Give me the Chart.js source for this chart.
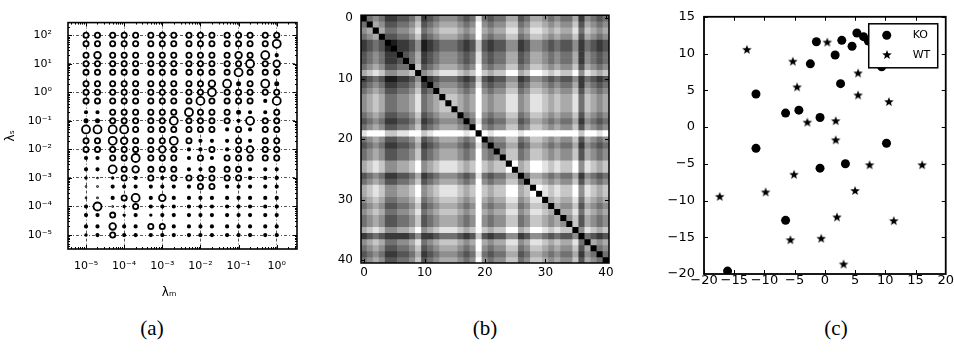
<!DOCTYPE html>
<html>
<head>
<meta charset="utf-8">
<script src="https://cdn.jsdelivr.net/npm/chart.js@4.4.1/dist/chart.umd.min.js"></script>
<style>
  html, body { margin: 0; padding: 0; background: #fff; }
  #page { position: relative; width: 954px; height: 353px; overflow: hidden; background: #fff; }
  #page canvas { position: absolute; top: 0; }
  .cap { position: absolute; top: 316px; width: 60px; margin-left: -30px; text-align: center;
         font: 21px "Liberation Serif", "DejaVu Serif", serif; line-height: 24px; color: #000; }
</style>
</head>
<body>
<div id="page">
  <canvas id="chartA" width="318" height="300" style="left:0px"></canvas>
  <canvas id="chartB" width="318" height="300" style="left:320px"></canvas>
  <canvas id="chartC" width="316" height="300" style="left:638px"></canvas>
  <div class="cap" style="left:152px">(a)</div>
  <div class="cap" style="left:485px">(b)</div>
  <div class="cap" style="left:836px">(c)</div>
</div>
<script>
// ---- (a) parameter grid ----
const lambdaM = [1e-5, 2e-5, 5e-5, 1e-4, 2e-4, 5e-4, 1e-3, 2e-3, 5e-3, 1e-2, 2e-2, 5e-2, 0.1, 0.2, 0.5, 1];
const lambdaS = [100, 50, 20, 10, 5, 2, 1, 0.5, 0.2, 0.1, 0.05, 0.02, 0.01,
                 5e-3, 2e-3, 1e-3, 5e-4, 2e-4, 1e-4, 5e-5, 2e-5, 1e-5];
// marker magnitude read per row of lambdaS (top to bottom), per column of lambdaM
const markerScore = [
  [3, 3, 3, 3, 3, 3, 3, 3, 3, 3, 3, 3, 3, 3, 3, 3],
  [3, 3, 3, 3, 3, 3, 3, 3, 3, 3, 3, 3, 3, 3, 3, 4],
  [3, 3.5, 3, 3, 3, 3, 3, 3, 3, 3, 3, 3, 3.5, 3, 4, 2],
  [3, 3, 3, 3, 3, 3, 3, 3, 3, 3, 3, 3, 3, 4, 3, 3.5],
  [3, 3, 3, 3, 3, 3, 3, 3, 3, 3, 3, 3, 4, 3, 3, 3],
  [3, 3, 3, 3, 3, 3, 3, 3, 3, 3, 3.5, 4, 2.5, 3, 4, 2.5],
  [3, 3, 3, 3, 3, 3, 3, 3, 3, 3, 4, 3, 3, 3, 3, 3],
  [3, 3, 3, 3, 3, 3, 3, 3, 3, 4, 3, 3, 3, 3, 2, 4],
  [2, 2, 3, 3, 3, 3, 3, 3, 4, 3, 3, 3, 2.5, 2, 2, 3],
  [2.5, 2.5, 3, 3, 3, 3, 3, 4, 3, 3, 3, 3, 2, 4, 3, 3],
  [4, 4, 4, 4, 3, 3, 3, 3, 3, 3, 3, 2, 3, 2, 3, 3],
  [3, 3, 4, 3.5, 3, 3, 3, 4, 3, 2, 2, 2, 3, 2, 3, 3],
  [3, 3, 3, 3, 3, 3, 3.5, 3, 2, 2, 3, 2, 3, 3.5, 3, 3],
  [2, 2, 3, 3, 4, 3, 3, 3, 2, 3, 2, 3, 3, 3, 3, 3],
  [2, 2, 4, 3, 3.5, 3, 3, 3, 2, 2, 3, 3, 3, 2, 2, 2],
  [1.5, 1, 1.5, 3, 2, 3, 2, 3, 3, 3, 3, 3, 3, 2, 2, 2],
  [1, 1, 2, 2, 2, 2, 2, 2, 2, 3, 3, 2, 2, 2, 2, 2],
  [1, 1, 2, 3, 4, 2, 3.5, 2, 2, 2, 2, 2, 2, 2, 2, 2],
  [2, 4, 1, 1.5, 3, 2, 2, 2, 2, 2, 2, 2, 2, 2, 2, 2],
  [2, 2, 3, 1.5, 2, 1.5, 2, 2, 2, 2, 2, 2, 2, 2, 2, 2],
  [2, 2, 3.5, 2, 2, 3, 3, 2, 2, 2, 2, 2, 2, 2, 2, 2],
  [1.5, 2, 3, 2, 2, 2, 2, 2, 2, 2, 2, 2, 2, 2, 2, 2]
];
const decadesX = [1e-5, 1e-4, 1e-3, 1e-2, 1e-1, 1];
const decadeLabelsX = ['10⁻⁵', '10⁻⁴', '10⁻³', '10⁻²', '10⁻¹', '10⁰'];
const decadesY = [1e-5, 1e-4, 1e-3, 1e-2, 1e-1, 1, 10, 100];
const decadeLabelsY = ['10⁻⁵', '10⁻⁴', '10⁻³', '10⁻²', '10⁻¹', '10⁰', '10¹', '10²'];

// ---- (b) distance matrix, grey level 0 (black) .. 9 (white), one string per row ----
const distRows = [
  "04542233462345554348434466346654544625434",
  "40653344573456665459545577457765655736545",
  "56064455684567776569656688568876766847656",
  "45603344573456665459545577457765655736545",
  "23430122351234443237323355235543433524323",
  "23431022351234443237323355235543433524323",
  "34542203462345554348434466346654544625434",
  "34542230462345554348434466346654544625434",
  "45653344073456665459545577457765655736545",
  "67875566705678887679767799679987877958767",
  "23431122350234443237323355235543433524323",
  "34542233462045554348434466346654544625434",
  "45653344573406665459545577457765655736545",
  "56764455684560776569656688568876766847656",
  "56764455684567076569656688568876766847656",
  "56764455684567706569656688568876766847656",
  "45653344573456660459545577457765655736545",
  "34542233462345554048434466346654544625434",
  "45653344573456665409545577457765655736545",
  "89997788997899999890989999899999999979989",
  "45653344573456665459045577457765655736545",
  "34542233462345554348404466346654544625434",
  "45653344573456665459540577457765655736545",
  "45653344573456665459545077457765655736545",
  "67875566795678887679767709679987877958767",
  "67875566795678887679767790679987877958767",
  "34542233462345554348434466046654544625434",
  "45653344573456665459545577407765655736545",
  "67875566795678887679767799670987877958767",
  "67875566795678887679767799679087877958767",
  "56764455684567776569656688568806766847656",
  "45653344573456665459545577457760655736545",
  "56764455684567776569656688568876066847656",
  "45653344573456665459545577457765605736545",
  "45653344573456665459545577457765650736545",
  "67875566795678887679767799679987877058767",
  "23432222352234443237323355235543433504323",
  "56764455684567776569656688568876766840656",
  "45653344573456665459545577457765655736045",
  "34542233462345554348434466346654544625404",
  "45653344573456665459545577457765655736540"
];
const heatTicks = [0, 10, 20, 30, 40];
const heatTickLabels = ['0', '10', '20', '30', '40'];

// ---- (c) 2-D embedding ----
const koX = [-16.1, -11.4, -11.4, -6.5, -4.3, -6.5, -1.4, -2.4, -0.8, -0.8, 1.7, 2.8, 2.6, 3.4, 4.5, 5.3, 6.4, 7.2, 9.4, 10.2];
const koY = [-19.6, 4.5, -2.9, 1.9, 2.3, -12.7, 11.6, 8.6, 1.3, -5.6, 9.8, 11.8, 5.9, -5.0, 11.0, 12.8, 12.3, 11.7, 8.2, -2.2];
const wtX = [-12.9, -5.3, -4.6, -2.9, 0.4, 1.8, 1.8, 5.5, 5.5, 10.6, -5.1, -9.8, -17.4, 7.4, 16.1, 5.0, 2.0, 11.4, -5.7, -0.6, 3.1];
const wtY = [10.5, 8.9, 5.4, 0.6, 11.5, 0.8, -1.8, 7.3, 4.3, 3.4, -6.5, -8.9, -9.5, -5.2, -5.2, -8.7, -12.3, -12.8, -15.4, -15.2, -18.7];
const scatterTicksX = [-20, -15, -10, -5, 0, 5, 10, 15, 20];
const scatterLabelsX = ['−20', '−15', '−10', '−5', '0', '5', '10', '15', '20'];
const scatterTicksY = [-20, -15, -10, -5, 0, 5, 10, 15];
const scatterLabelsY = ['−20', '−15', '−10', '−5', '0', '5', '10', '15'];

Chart.defaults.font.family = "'DejaVu Sans', sans-serif";
Chart.defaults.color = '#000';

// helpers
function labelFor(v, ticks, labels) {
  const i = ticks.findIndex(t => Math.abs(t - v) <= Math.abs(t) * 1e-6 + 1e-9);
  return i >= 0 ? labels[i] : '';
}
// small magnitudes read as solid dots, larger ones as rings
function scoreRadius(s) {
  return s <= 2.5 ? 0.4 + (s - 1) * 0.8 : 2.6 + (s - 3) * 1.4;
}
function scoreFill(s) {
  return s <= 2.5 ? '#000' : '#fff';
}
function greyOf(ch) {
  const g = Math.round(Number(ch) * 255 / 9);
  return `rgb(${g},${g},${g})`;
}
function makeStar(outer, inner) {
  const size = Math.ceil(outer * 2) + 2;
  const cv = document.createElement('canvas');
  cv.width = size; cv.height = size;
  const g = cv.getContext('2d');
  g.fillStyle = '#000';
  g.beginPath();
  for (let k = 0; k < 10; k++) {
    const rad = k % 2 ? inner : outer;
    const a = -Math.PI / 2 + k * Math.PI / 5;
    g.lineTo(size / 2 + rad * Math.cos(a), size / 2 + rad * Math.sin(a));
  }
  g.closePath();
  g.fill();
  return cv;
}
const starImg = makeStar(5, 2.1);

// frame + inward tick marks, drawn over the data like matplotlib spines
const framePlugin = {
  id: 'frame',
  afterDatasetsDraw(chart, args, opts) {
    const { ctx, chartArea: a } = chart;
    const xs = chart.scales.x, ys = chart.scales.y;
    ctx.save();
    ctx.strokeStyle = '#000';
    ctx.lineWidth = 1;
    const marks = (vals, len, horiz) => {
      (vals || []).forEach(v => {
        if (horiz) {
          const px = Math.round(xs.getPixelForValue(v)) + 0.5;
          if (px < a.left || px > a.right) return;
          ctx.beginPath();
          ctx.moveTo(px, a.bottom); ctx.lineTo(px, a.bottom - len);
          ctx.moveTo(px, a.top); ctx.lineTo(px, a.top + len);
          ctx.stroke();
        } else {
          const py = Math.round(ys.getPixelForValue(v)) + 0.5;
          if (py < a.top || py > a.bottom) return;
          ctx.beginPath();
          ctx.moveTo(a.left, py); ctx.lineTo(a.left + len, py);
          ctx.moveTo(a.right, py); ctx.lineTo(a.right - len, py);
          ctx.stroke();
        }
      });
    };
    marks(opts.majorX, 4, true);
    marks(opts.majorY, 4, false);
    marks(opts.minorX, 2, true);
    marks(opts.minorY, 2, false);
    ctx.lineWidth = opts.width || 1.5;
    ctx.strokeRect(a.left, a.top, a.right - a.left, a.bottom - a.top);
    ctx.restore();
  }
};

// minor log ticks for panel (a)
function logMinors(kFrom, kTo) {
  const out = [];
  for (let k = kFrom; k <= kTo; k++) for (let m = 2; m <= 9; m++) out.push(m * Math.pow(10, k));
  return out;
}

// ---------- panel (a) ----------
const gridPoints = [];
lambdaS.forEach((s, r) => lambdaM.forEach((m, c) => {
  gridPoints.push({ x: m, y: s, score: markerScore[r][c] });
}));

new Chart(document.getElementById('chartA'), {
  type: 'scatter',
  data: {
    datasets: [{
      data: gridPoints,
      pointRadius: ctx => scoreRadius(ctx.raw ? ctx.raw.score : 3),
      pointBackgroundColor: ctx => scoreFill(ctx.raw ? ctx.raw.score : 3),
      pointBorderColor: '#000',
      pointBorderWidth: 1.8,
      clip: 0
    }]
  },
  options: {
    responsive: false,
    animation: false,
    events: [],
    layout: { padding: { left: 0, right: 21, top: 11, bottom: 0 } },
    plugins: {
      legend: { display: false },
      tooltip: { enabled: false },
      frame: { majorX: decadesX, majorY: decadesY, minorX: logMinors(-6, 0), minorY: logMinors(-6, 2), width: 1.6 }
    },
    scales: {
      x: {
        type: 'logarithmic',
        min: 3.37e-6, max: 3.4,
        afterBuildTicks: s => { s.ticks = decadesX.map(v => ({ value: v })); },
        afterFit: s => { s.height = 51; },
        ticks: { callback: v => labelFor(v, decadesX, decadeLabelsX), font: { size: 11 }, padding: 11,
                 maxRotation: 0, autoSkip: false },
        grid: { color: '#444', lineWidth: 0.9, drawTicks: false, borderDash: [3, 2, 1, 2] },
        border: { display: false, dash: [3, 2, 1, 2] },
        title: { display: true, text: 'λₘ       ', font: { size: 12 }, padding: 0 }
      },
      y: {
        type: 'logarithmic',
        min: 3.24e-6, max: 277,
        afterBuildTicks: s => { s.ticks = decadesY.map(v => ({ value: v })); },
        afterFit: s => { s.width = 68; },
        ticks: { callback: v => labelFor(v, decadesY, decadeLabelsY), font: { size: 11 }, padding: 16, autoSkip: false },
        grid: { color: '#444', lineWidth: 0.9, drawTicks: false, borderDash: [3, 2, 1, 2] },
        border: { display: false, dash: [3, 2, 1, 2] },
        title: { display: true, text: 'λₛ', font: { size: 12 }, padding: { top: 4, bottom: 0 } }
      }
    }
  },
  plugins: [framePlugin]
});

// ---------- panel (b) ----------
const cellIndex = distRows.map((_, i) => i);
const heatDatasets = distRows.map((row, r) => ({
  data: cellIndex.map(c => ({ x: c, y: [r - 0.5, r + 0.5] })),
  backgroundColor: cellIndex.map(c => greyOf(row[c])),
  borderWidth: 0,
  grouped: false,
  barPercentage: 1,
  categoryPercentage: 1
}));

new Chart(document.getElementById('chartB'), {
  type: 'bar',
  data: { datasets: heatDatasets },
  options: {
    responsive: false,
    animation: false,
    events: [],
    layout: { padding: { left: 0, right: 29, top: 14, bottom: 0 } },
    plugins: {
      legend: { display: false },
      tooltip: { enabled: false },
      frame: { majorX: heatTicks, majorY: heatTicks, width: 1.5 }
    },
    scales: {
      x: {
        type: 'linear', min: -0.5, max: 40.5, offset: false,
        afterBuildTicks: s => { s.ticks = heatTicks.map(v => ({ value: v })); },
        afterFit: s => { s.height = 37; },
        ticks: { callback: v => labelFor(v, heatTicks, heatTickLabels), font: { size: 12 }, padding: 3,
                 maxRotation: 0, autoSkip: false },
        grid: { display: false, drawTicks: false, offset: false },
        border: { display: false }
      },
      y: {
        type: 'linear', reverse: true, min: -0.5, max: 40.5,
        afterBuildTicks: s => { s.ticks = heatTicks.map(v => ({ value: v })); },
        afterFit: s => { s.width = 41; },
        ticks: { callback: v => labelFor(v, heatTicks, heatTickLabels), font: { size: 12 }, padding: 8, autoSkip: false },
        grid: { display: false, drawTicks: false },
        border: { display: false }
      }
    }
  },
  plugins: [framePlugin]
});

// ---------- panel (c) ----------
const legendBoxPlugin = {
  id: 'boxLegend',
  afterDraw(chart) {
    const { ctx, chartArea: a } = chart;
    const bx = a.right - 77, by = a.top + 7, bw = 69, bh = 44;
    ctx.save();
    ctx.fillStyle = '#fff';
    ctx.fillRect(bx, by, bw, bh);
    ctx.strokeStyle = '#000';
    ctx.lineWidth = 1.5;
    ctx.strokeRect(bx, by, bw, bh);
    ctx.fillStyle = '#000';
    ctx.beginPath();
    ctx.arc(bx + 18, by + 11.5, 4.5, 0, Math.PI * 2);
    ctx.fill();
    ctx.drawImage(starImg, Math.round(bx + 18 - starImg.width / 2), Math.round(by + 31.5 - starImg.height / 2));
    ctx.font = "11px 'DejaVu Sans', sans-serif";
    ctx.textBaseline = 'middle';
    ctx.fillText(chart.data.datasets[0].label, bx + 44, by + 11.5);
    ctx.fillText(chart.data.datasets[1].label, bx + 44, by + 31.5);
    ctx.restore();
  }
};

new Chart(document.getElementById('chartC'), {
  type: 'scatter',
  data: {
    datasets: [
      { label: 'KO', data: koX.map((x, i) => ({ x, y: koY[i] })), pointStyle: 'circle', pointRadius: 4.5,
        pointBackgroundColor: '#000', pointBorderWidth: 0, clip: 0 },
      { label: 'WT', data: wtX.map((x, i) => ({ x, y: wtY[i] })), pointStyle: starImg, pointRadius: 5,
        pointBorderWidth: 0, clip: 0 }
    ]
  },
  options: {
    responsive: false,
    animation: false,
    events: [],
    layout: { padding: { left: 0, right: 8, top: 10, bottom: 0 } },
    plugins: {
      legend: { display: false },
      tooltip: { enabled: false },
      frame: { majorX: scatterTicksX, majorY: scatterTicksY, width: 1.8 }
    },
    scales: {
      x: {
        type: 'linear', min: -20, max: 20,
        afterBuildTicks: s => { s.ticks = scatterTicksX.map(v => ({ value: v })); },
        afterFit: s => { s.height = 26; },
        ticks: { callback: v => labelFor(v, scatterTicksX, scatterLabelsX), font: { size: 13, lineHeight: 1 },
                 padding: 0, maxRotation: 0, autoSkip: false },
        grid: { display: false, drawTicks: false },
        border: { display: false }
      },
      y: {
        type: 'linear', min: -20, max: 15,
        afterBuildTicks: s => { s.ticks = scatterTicksY.map(v => ({ value: v })); },
        afterFit: s => { s.width = 66; },
        ticks: { callback: v => labelFor(v, scatterTicksY, scatterLabelsY), font: { size: 13 }, padding: 9, autoSkip: false },
        grid: { display: false, drawTicks: false },
        border: { display: false }
      }
    }
  },
  plugins: [framePlugin, legendBoxPlugin]
});
</script>
</body>
</html>
